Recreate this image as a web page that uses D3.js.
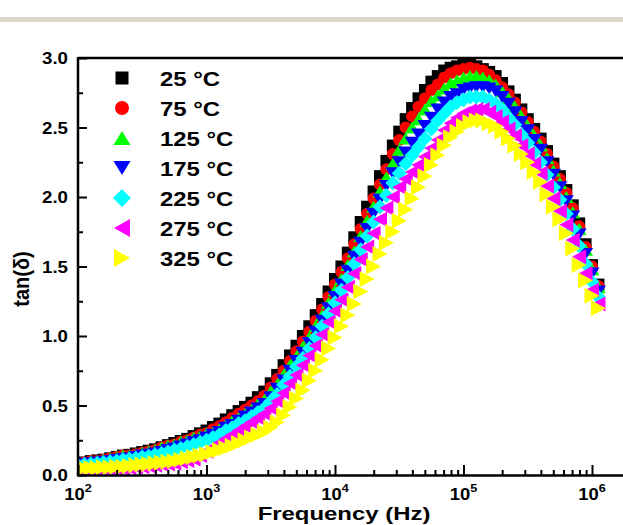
<!DOCTYPE html>
<html><head><meta charset="utf-8">
<script src="https://cdn.jsdelivr.net/npm/d3@7"></script>
<style>body{margin:0;background:#fff}svg{display:block}</style>
</head><body>
<script>
// ---------- DATA ----------
const freq = [100,112,126,141,158,178,200,224,251,282,316,355,398,447,501,562,631,708,794,891,
1000,1122,1259,1413,1585,1778,1995,2239,2512,2818,3162,3548,3981,4467,5012,5623,6310,7079,7943,8913,
10000,11220,12589,14125,15849,17783,19953,22387,25119,28184,31623,35481,39811,44668,50119,56234,63096,70795,79433,89125,
100000,112202,125893,141254,158489,177828,199526,223872,251189,281838,316228,354813,398107,446684,501187,562341,630957,707946,794328,891251,
1000000,1122018];

const t25 = [0.08,0.09,0.10,0.105,0.11,0.12,0.13,0.14,0.145,0.155,
0.165,0.175,0.185,0.20,0.215,0.23,0.245,0.26,0.28,0.30,
0.32,0.345,0.37,0.40,0.43,0.46,0.49,0.52,0.56,0.60,
0.66,0.72,0.79,0.86,0.93,1.00,1.07,1.15,1.23,1.32,
1.41,1.50,1.60,1.71,1.82,1.93,2.04,2.15,2.26,2.37,
2.47,2.56,2.64,2.71,2.77,2.83,2.87,2.91,2.93,2.94,
2.95,2.95,2.94,2.92,2.90,2.87,2.82,2.76,2.70,2.63,
2.56,2.49,2.42,2.33,2.24,2.15,2.05,1.94,1.81,1.66,
1.51,1.37];

const t75 = [0.08,0.09,0.10,0.10,0.11,0.12,0.13,0.14,0.14,0.15,
0.16,0.17,0.18,0.20,0.21,0.22,0.24,0.25,0.27,0.29,
0.30,0.33,0.35,0.38,0.41,0.44,0.47,0.50,0.53,0.57,
0.63,0.69,0.75,0.82,0.89,0.96,1.03,1.11,1.19,1.28,
1.37,1.46,1.56,1.66,1.77,1.88,1.99,2.09,2.20,2.31,
2.41,2.50,2.58,2.65,2.71,2.77,2.81,2.86,2.89,2.91,
2.92,2.93,2.92,2.91,2.88,2.84,2.79,2.74,2.68,2.61,
2.54,2.47,2.40,2.31,2.22,2.13,2.03,1.92,1.79,1.64,
1.50,1.36];

const t125 = [0.08,0.09,0.10,0.10,0.11,0.12,0.13,0.14,0.14,0.15,
0.16,0.17,0.18,0.20,0.21,0.22,0.24,0.25,0.27,0.28,
0.30,0.31,0.33,0.36,0.39,0.41,0.44,0.47,0.51,0.54,
0.60,0.65,0.72,0.79,0.85,0.92,0.99,1.07,1.15,1.24,
1.33,1.41,1.51,1.61,1.72,1.83,1.93,2.04,2.14,2.24,
2.34,2.42,2.50,2.56,2.63,2.69,2.73,2.78,2.82,2.84,
2.86,2.87,2.87,2.86,2.84,2.81,2.76,2.71,2.65,2.58,
2.51,2.44,2.37,2.28,2.19,2.10,2.00,1.89,1.77,1.62,
1.48,1.35];

const t175 = [0.07,0.08,0.085,0.09,0.095,0.10,0.11,0.115,0.12,0.13,
0.14,0.145,0.155,0.165,0.18,0.19,0.205,0.22,0.235,0.25,
0.27,0.29,0.31,0.34,0.36,0.39,0.42,0.45,0.48,0.51,
0.56,0.62,0.68,0.75,0.82,0.88,0.95,1.03,1.11,1.20,
1.28,1.37,1.47,1.57,1.67,1.77,1.88,1.98,2.08,2.17,
2.25,2.32,2.39,2.45,2.51,2.57,2.63,2.68,2.72,2.74,
2.77,2.78,2.79,2.79,2.78,2.76,2.72,2.67,2.61,2.54,
2.48,2.41,2.34,2.25,2.16,2.07,1.97,1.86,1.73,1.59,
1.45,1.32];

const t225 = [0.07,0.075,0.08,0.085,0.09,0.095,0.10,0.11,0.115,0.12,
0.13,0.135,0.145,0.155,0.165,0.18,0.19,0.205,0.22,0.235,
0.25,0.27,0.29,0.32,0.34,0.37,0.39,0.42,0.45,0.48,
0.53,0.58,0.65,0.71,0.78,0.84,0.91,0.99,1.07,1.16,
1.24,1.33,1.42,1.52,1.62,1.72,1.82,1.93,2.01,2.10,
2.17,2.24,2.30,2.36,2.42,2.49,2.55,2.60,2.65,2.68,
2.70,2.72,2.72,2.72,2.70,2.67,2.63,2.57,2.52,2.45,
2.39,2.32,2.25,2.16,2.07,1.98,1.88,1.77,1.65,1.52,
1.39,1.28];

const t275 = [0.035,0.035,0.035,0.035,0.04,0.04,0.045,0.045,0.05,0.055,
0.06,0.065,0.07,0.075,0.08,0.085,0.095,0.105,0.115,0.14,
0.17,0.20,0.23,0.26,0.29,0.32,0.35,0.38,0.41,0.44,
0.48,0.53,0.59,0.66,0.72,0.79,0.86,0.93,1.01,1.10,
1.18,1.26,1.35,1.45,1.55,1.64,1.74,1.84,1.92,2.00,
2.07,2.13,2.18,2.23,2.29,2.35,2.41,2.48,2.53,2.57,
2.60,2.62,2.63,2.63,2.61,2.58,2.54,2.49,2.44,2.37,
2.31,2.24,2.17,2.08,1.99,1.90,1.80,1.69,1.57,1.45,
1.33,1.23];

const t325 = [0.05,0.05,0.05,0.05,0.055,0.055,0.06,0.06,0.065,0.07,
0.075,0.08,0.085,0.09,0.095,0.10,0.11,0.12,0.13,0.14,
0.15,0.165,0.18,0.195,0.21,0.23,0.25,0.27,0.29,0.31,
0.34,0.38,0.43,0.49,0.55,0.61,0.68,0.75,0.83,0.91,
0.99,1.07,1.15,1.23,1.32,1.41,1.50,1.59,1.67,1.75,
1.83,1.91,1.99,2.07,2.15,2.23,2.30,2.37,2.43,2.47,
2.51,2.54,2.55,2.55,2.53,2.51,2.47,2.42,2.37,2.31,
2.25,2.18,2.11,2.02,1.93,1.84,1.74,1.63,1.51,1.40,
1.29,1.20];

const seriesNames = ["25 °C","75 °C","125 °C","175 °C","225 °C","275 °C","325 °C"];
const seriesColors = ["#000000","#ff0000","#00ff00","#0000ff","#00ffff","#ff00ff","#ffff00"];
const seriesShapes = ["square","circle","up","down","diamond","left","right"];
const yTickValues = [0,0.5,1.0,1.5,2.0,2.5,3.0];
const yTickLabels = ["0.0","0.5","1.0","1.5","2.0","2.5","3.0"];
const xTickValues = [1e2,1e3,1e4,1e5,1e6];
const xTickExponents = ["2","3","4","5","6"];

// ---------- STYLE ----------
const allSeries = [t25,t75,t125,t175,t225,t275,t325];
const plotSize = [[12,12],[12,12],[15,12],[15,12],[15,15],[14,15],[15,16]];
const legSize  = [[13,13],[14,14],[17,14],[17,14],[18,18],[16,18],[16,18]];
const FONT = "'Liberation Sans', Arial, Helvetica, sans-serif";

function shapePath(type, w, h){
  const a=w/2, b=h/2;
  switch(type){
    case "square": return `M${-a},${-b}H${a}V${b}H${-a}Z`;
    case "circle": return `M${-a},0A${a},${b} 0 1 0 ${a},0A${a},${b} 0 1 0 ${-a},0Z`;
    case "up": return `M0,${-b}L${a},${b}L${-a},${b}Z`;
    case "down": return `M0,${b}L${a},${-b}L${-a},${-b}Z`;
    case "diamond": return `M0,${-b}L${a},0L0,${b}L${-a},0Z`;
    case "left": return `M${-a},0L${a},${-b}L${a},${b}Z`;
    case "right": return `M${a},0L${-a},${-b}L${-a},${b}Z`;
  }
}

const W=623, H=525;
const svg = d3.select("body").append("svg").attr("width",W).attr("height",H);
svg.append("rect").attr("x",0).attr("y",0).attr("width",W).attr("height",H).attr("fill","#fff");
svg.append("rect").attr("x",0).attr("y",17).attr("width",W).attr("height",5).attr("fill","#ddd7c7");

const x = d3.scaleLog().domain([1e2,1e6]).range([78,592]);
const y = d3.scaleLinear().domain([0,3]).range([475,58]);

svg.append("defs").append("clipPath").attr("id","clip")
  .append("rect").attr("x",78).attr("y",40).attr("width",560).attr("height",436);

const gData = svg.append("g").attr("clip-path","url(#clip)");
allSeries.forEach((vals,i)=>{
  gData.append("g").selectAll("path").data(vals).join("path")
    .attr("d", shapePath(seriesShapes[i], plotSize[i][0], plotSize[i][1]))
    .attr("transform",(d,j)=>`translate(${x(freq[j])},${y(d)})`)
    .attr("fill", seriesColors[i]);
});

// axes ticks
const xMinor = [];
[1e2,1e3,1e4,1e5].forEach(d=>{for(let k=2;k<=9;k++) xMinor.push(d*k);});
const yMinor = [0.25,0.75,1.25,1.75,2.25,2.75];

function styleAxis(g){ g.select(".domain").remove(); g.selectAll("line").attr("stroke","#000").attr("stroke-width",2); g.selectAll("text").remove(); }

svg.append("g").attr("transform","translate(0,475)")
  .call(d3.axisBottom(x).tickValues(xTickValues).tickSize(-10).tickSizeOuter(0)).call(styleAxis);
svg.append("g").attr("transform","translate(0,475)")
  .call(d3.axisBottom(x).tickValues(xMinor).tickSize(-5).tickSizeOuter(0)).call(styleAxis);
svg.append("g").attr("transform","translate(78,0)")
  .call(d3.axisLeft(y).tickValues(yTickValues).tickSize(-9).tickSizeOuter(0)).call(styleAxis);
svg.append("g").attr("transform","translate(78,0)")
  .call(d3.axisLeft(y).tickValues(yMinor).tickSize(-5).tickSizeOuter(0)).call(styleAxis);

// frame
svg.append("line").attr("x1",78).attr("x2",W+5).attr("y1",58).attr("y2",58).attr("stroke","#000").attr("stroke-width",2.5);
svg.append("line").attr("x1",78).attr("x2",W+5).attr("y1",475.5).attr("y2",475.5).attr("stroke","#000").attr("stroke-width",2.5);
svg.append("line").attr("x1",78).attr("x2",78).attr("y1",57).attr("y2",476.5).attr("stroke","#000").attr("stroke-width",2.5);

// y tick labels
yTickValues.forEach((v,i)=>{
  svg.append("text").attr("transform",`translate(68,${y(v)+6}) scale(1.1,1)`)
    .attr("text-anchor","end").attr("font-family",FONT).attr("font-weight","bold").attr("font-size",17)
    .text(yTickLabels[i]);
});
// x tick labels
xTickValues.forEach((v,i)=>{
  const t = svg.append("text").attr("transform",`translate(${x(v)},500) scale(1.15,1)`)
    .attr("text-anchor","middle").attr("font-family",FONT).attr("font-weight","bold").attr("font-size",16);
  t.append("tspan").text("10");
  t.append("tspan").attr("dy",-8).attr("font-size",11).text(xTickExponents[i]);
});

// axis titles
svg.append("text").attr("transform","translate(344,520) scale(1.33,1)")
  .attr("text-anchor","middle").attr("font-family",FONT).attr("font-weight","bold").attr("font-size",18)
  .text("Frequency (Hz)");
svg.append("text").attr("transform","translate(29,279) rotate(-90) scale(1,1.1)")
  .attr("text-anchor","middle").attr("font-family",FONT).attr("font-weight","bold").attr("font-size",20)
  .text("tan(δ)");

// legend
const legY0 = 78, legDy = 30;
seriesNames.forEach((name,i)=>{
  const yy = legY0 + i*legDy;
  svg.append("path").attr("d", shapePath(seriesShapes[i], legSize[i][0], legSize[i][1]))
    .attr("transform",`translate(122,${yy})`).attr("fill",seriesColors[i]);
  svg.append("text").attr("transform",`translate(160,${yy+7.5}) scale(1.14,1)`)
    .attr("font-family",FONT).attr("font-weight","bold").attr("font-size",21).text(name);
});
</script>
</body></html>
